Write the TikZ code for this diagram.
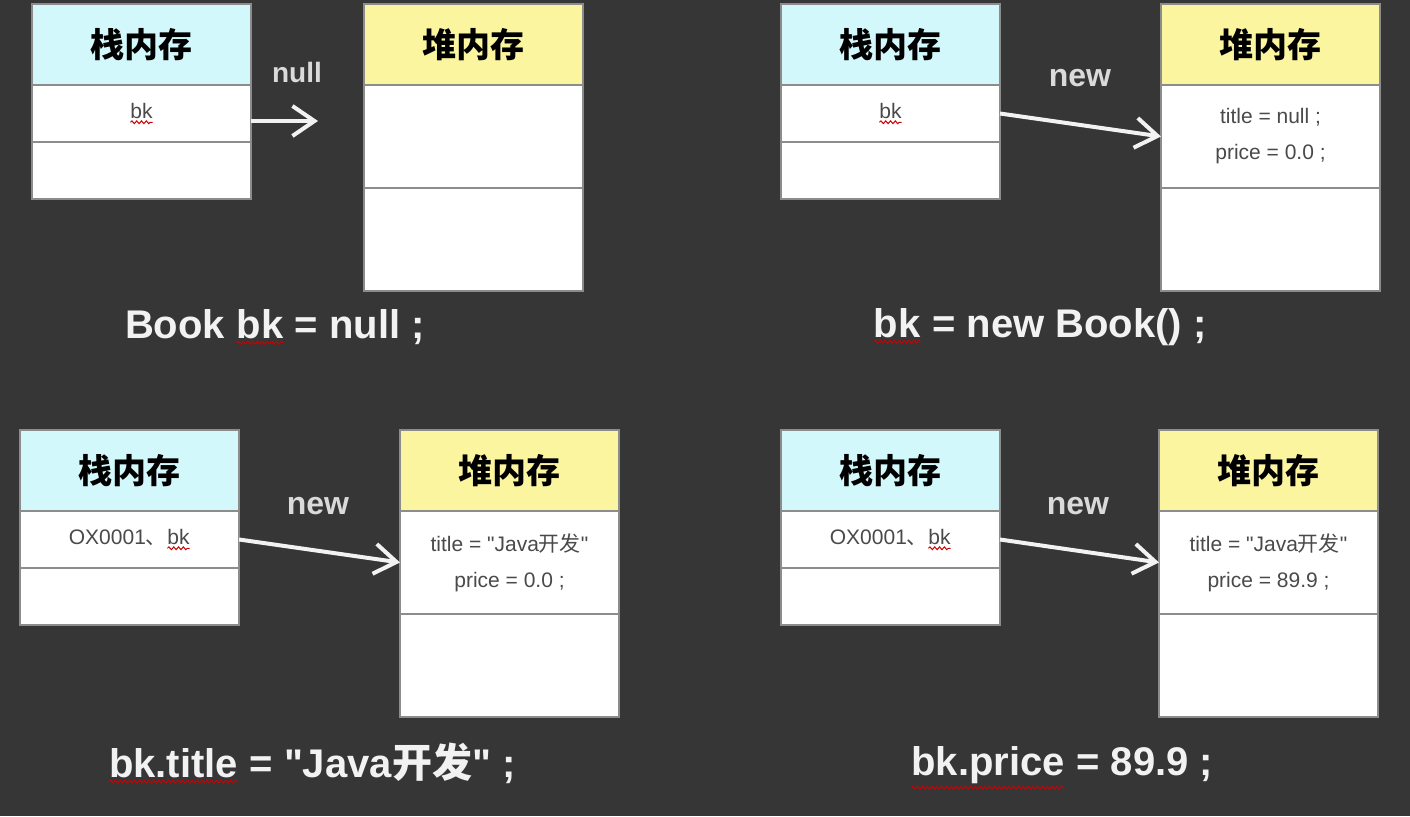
\documentclass[tikz,border=0pt]{standalone}
\usepackage{fontspec}
\setmainfont{Liberation Sans}[Ligatures=TeXOff]
\newfontfamily\cjk{Noto Sans CJK SC}
\usetikzlibrary{positioning,arrows.meta,decorations.pathmorphing}
\definecolor{JBg}{HTML}{363636}
\definecolor{JStack}{HTML}{D2F8FC}
\definecolor{JHeap}{HTML}{FAF59E}
\definecolor{JLine}{HTML}{8C8C8C}
\definecolor{JText}{HTML}{4A4A4A}
\definecolor{JWhite}{HTML}{F2F2F2}
\newcommand{\wavy}[1]{\tikz[baseline=(w.base)]{\node[inner sep=0pt, outer sep=0pt, minimum size=0pt, draw=none, fill=none, anchor=center, shape=rectangle] (w) {#1};
  \draw[red!80!black, line width=0.5pt, decorate, decoration={snake,amplitude=0.7pt,segment length=2.4pt}] ([yshift=-2pt]w.south west) -- ([yshift=-2pt]w.south east);}}
\tikzset{
  stackhdr/.style={draw=JLine, line width=1pt, fill=JStack, minimum width=109.5pt, minimum height=40.5pt, inner sep=0pt, outer sep=0pt, font=\cjk\bfseries\fontsize{17}{17}\selectfont, text=black},
  heaphdr/.style={stackhdr, fill=JHeap},
  cellsm/.style={draw=JLine, line width=1pt, fill=white, minimum width=109.5pt, minimum height=28.5pt, inner sep=0pt, outer sep=0pt, font=\fontsize{10.5}{18}\selectfont, text=JText, align=center},
  cellbig/.style={cellsm, minimum height=51.5pt},
  ptr/.style={-{Straight Barb[length=11pt,width=15pt]}, line width=2pt, JWhite},
  ptrlab/.style={font=\bfseries\fontsize{16}{16}\selectfont, text=JWhite!90!black},
  codeline/.style={font=\bfseries\fontsize{20}{20}\selectfont, text=JWhite}
}
\begin{document}
\begin{tikzpicture}[x=0.5pt,y=-0.5pt]
\fill[JBg] (0,0) rectangle (1410,816);
% Book bk = null
\node[stackhdr, anchor=north west] (s1h) at (32,4) {栈内存};
\node[cellsm, below=0pt of s1h] (s1a) {\wavy{bk}};
\node[cellsm, below=0pt of s1a] (s1b) {};
\node[heaphdr, anchor=north west] (h1h) at (364,4) {堆内存};
\node[cellbig, below=0pt of h1h] (h1a) {};
\node[cellbig, below=0pt of h1a] (h1b) {};
\coordinate (nul) at (318,121);
\draw[ptr] (s1a.east |- nul) -- (nul);
\node[ptrlab, font=\bfseries\fontsize{14}{14}\selectfont] (l1) at (297,72) {null};
\node[codeline] (c1) at (275,327) {Book \wavy{bk} = null ;};
% bk = new Book()
\node[stackhdr, anchor=north west] (s2h) at (781,4) {栈内存};
\node[cellsm, below=0pt of s2h] (s2a) {\wavy{bk}};
\node[cellsm, below=0pt of s2a] (s2b) {};
\node[heaphdr, anchor=north west] (h2h) at (1161,4) {堆内存};
\node[cellbig, below=0pt of h2h] (h2a) {title = null ;\\price = 0.0 ;};
\node[cellbig, below=0pt of h2a] (h2b) {};
\draw[ptr] (s2a.east) -- (h2a.west);
\node[ptrlab] (l2) at (1080,78) {new};
\node[codeline] (c2) at (1040,327) {\wavy{bk} = new Book() ;};
% bk.title
\node[stackhdr, anchor=north west] (s3h) at (20,430) {栈内存};
\node[cellsm, below=0pt of s3h] (s3a) {OX0001{\cjk 、}\wavy{bk}};
\node[cellsm, below=0pt of s3a] (s3b) {};
\node[heaphdr, anchor=north west] (h3h) at (400,430) {堆内存};
\node[cellbig, below=0pt of h3h] (h3a) {title = "Java{\cjk 开发}"\\price = 0.0 ;};
\node[cellbig, below=0pt of h3a] (h3b) {};
\draw[ptr] (s3a.east) -- (h3a.west);
\node[ptrlab] (l3) at (318,506) {new};
\node[codeline] (c3) at (312,763) {\wavy{bk.title} = "Java{\cjk\bfseries 开发}" ;};
% bk.price
\node[stackhdr, anchor=north west] (s4h) at (781,430) {栈内存};
\node[cellsm, below=0pt of s4h] (s4a) {OX0001{\cjk 、}\wavy{bk}};
\node[cellsm, below=0pt of s4a] (s4b) {};
\node[heaphdr, anchor=north west] (h4h) at (1159,430) {堆内存};
\node[cellbig, below=0pt of h4h] (h4a) {title = "Java{\cjk 开发}"\\price = 89.9 ;};
\node[cellbig, below=0pt of h4a] (h4b) {};
\draw[ptr] (s4a.east) -- (h4a.west);
\node[ptrlab] (l4) at (1078,506) {new};
\node[codeline] (c4) at (1062,768) {\wavy{bk.price} = 89.9 ;};
\end{tikzpicture}
\end{document}
